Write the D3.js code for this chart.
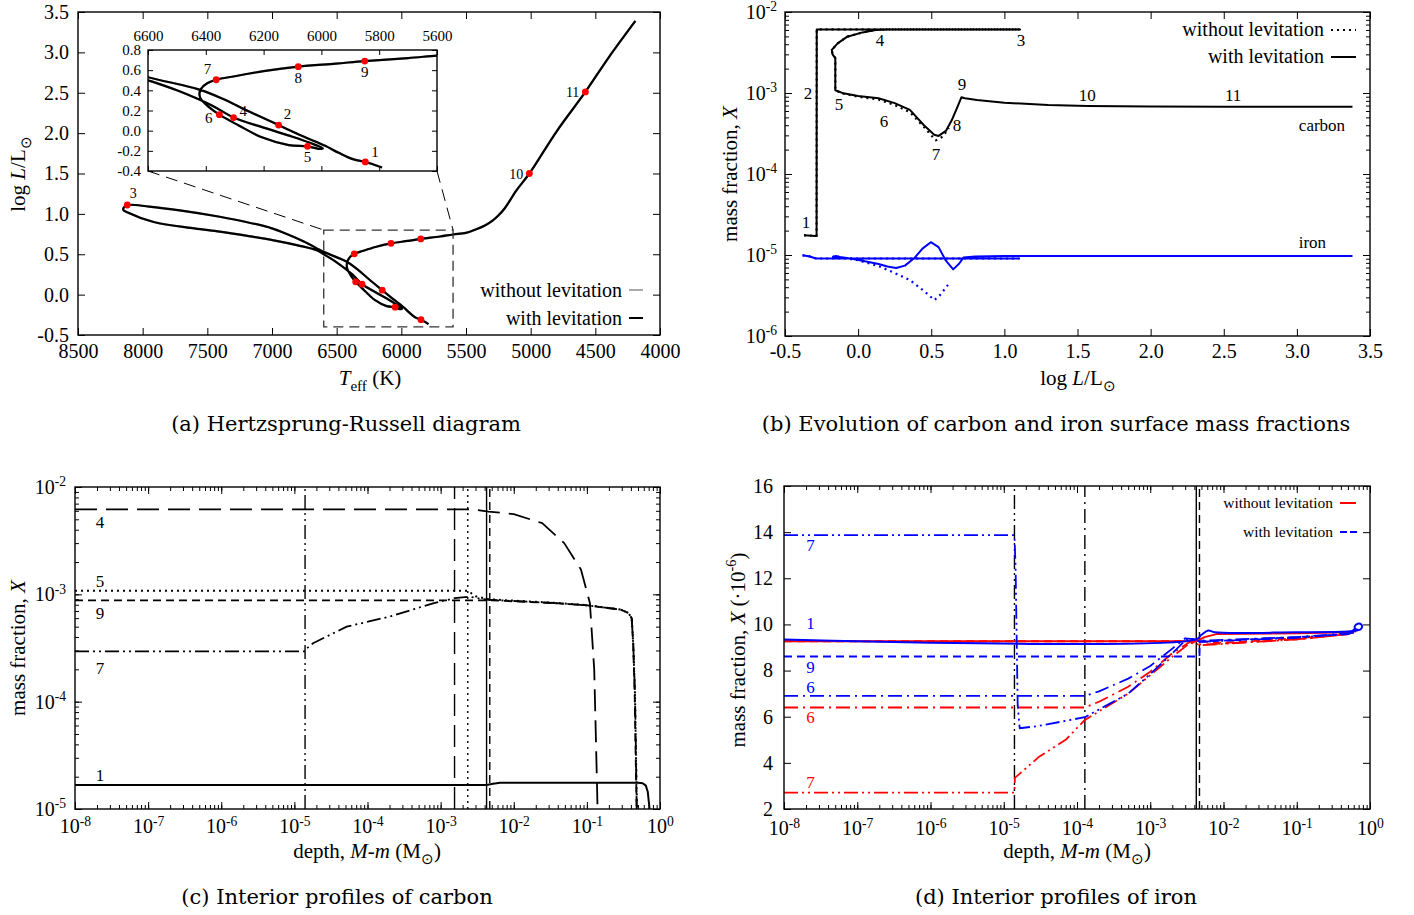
<!DOCTYPE html>
<html>
<head>
<meta charset="utf-8">
<script src="https://cdn.jsdelivr.net/npm/d3@7"></script>
<style>
body { margin: 0; background: #fff; }
</style>
</head>
<body>
<script>
// ---------- (a) HR diagram ----------
var hrTeff = [5790, 5820, 5848, 5894, 5940, 5987, 6060, 6148, 6250, 6344, 6425, 6600, 6750, 6900, 7000, 7200, 7404, 7700, 7950, 8119,
    8145, 8150, 8120, 7915, 7600, 7404, 7200, 6996, 6800, 6655, 6600, 6500, 6379, 6304, 6200, 6100, 6040, 5995, 6010, 6048,
    6113, 6206, 6286, 6353, 6390, 6418, 6422, 6415, 6395, 6364, 6300, 6200, 6080, 5950, 5850, 5700, 5600, 5500, 5420, 5350,
    5300, 5250, 5200, 5110, 5010, 4800, 4577, 4400, 4190];
var hrLogL = [-0.365, -0.335, -0.31, -0.28, -0.22, -0.15, -0.06, 0.055, 0.19, 0.32, 0.41, 0.53, 0.655, 0.76, 0.82, 0.90, 0.964, 1.04, 1.09, 1.11,
    1.08, 1.05, 1.02, 0.90, 0.82, 0.78, 0.73, 0.675, 0.61, 0.55, 0.50, 0.40, 0.25, 0.13, 0.03, -0.06, -0.12, -0.175, -0.18, -0.155,
    -0.143, -0.066, 0.052, 0.159, 0.236, 0.32, 0.37, 0.42, 0.47, 0.505, 0.54, 0.59, 0.635, 0.665, 0.69, 0.72, 0.745, 0.765, 0.81, 0.86,
    0.91, 0.98, 1.07, 1.29, 1.5, 2.02, 2.51, 2.93, 3.39];
// without levitation the track is the same (hidden under the black one)
var hrNoLevTeff = hrTeff.slice();
var hrNoLevLogL = hrLogL.slice();

var ptLabels = ["1", "2", "3", "4", "5", "6", "7", "8", "9", "10", "11"];
var ptTeff = [5848, 6148, 8119, 6304, 6048, 6353, 6364, 6080, 5850, 5010, 4577];
var ptLogL = [-0.31, 0.055, 1.11, 0.13, -0.155, 0.159, 0.505, 0.635, 0.69, 1.5, 2.51];

var aTeffTicks = [8500, 8000, 7500, 7000, 6500, 6000, 5500, 5000, 4500, 4000];
var aLogLTicks = [-0.5, 0, 0.5, 1, 1.5, 2, 2.5, 3, 3.5];
var insetTeffTicks = [6600, 6400, 6200, 6000, 5800, 5600];
var insetLogLTicks = [-0.4, -0.2, 0, 0.2, 0.4, 0.6, 0.8];

// ---------- (b) surface mass fractions ----------
var cLevL = [-0.37, -0.29, -0.284, -0.283, 0.5, 1.107, 0.5, 0.2, 0.12, 0.03, -0.074, -0.14, -0.18, -0.175, -0.156, -0.156,
    -0.1, 0.0, 0.14, 0.25, 0.354, 0.45, 0.52, 0.55, 0.6, 0.64, 0.68, 0.706, 0.73, 0.812, 1.0, 1.3, 1.57, 2.0, 2.5, 3.0, 3.38];
var cLevX = [1.75e-5, 1.72e-5, 1.72e-5, 6.1e-3, 6.1e-3, 6.1e-3, 6.1e-3, 6.1e-3, 6.0e-3, 5.6e-3, 4.96e-3, 4.1e-3, 3.4e-3, 3.0e-3, 2.7e-3, 1.08e-3,
    9.9e-4, 9.2e-4, 8.6e-4, 7.5e-4, 6.2e-4, 4.0e-4, 3.05e-4, 2.95e-4, 3.4e-4, 4.6e-4, 6.8e-4, 8.85e-4, 8.6e-4, 8.2e-4, 7.6e-4, 7.1e-4, 6.9e-4, 6.8e-4, 6.75e-4, 6.75e-4, 6.75e-4];
var cNoLevL = [-0.37, -0.29, -0.284, -0.283, 0.5, 1.107, 0.5, 0.2, 0.12, 0.03, -0.074, -0.14, -0.18, -0.175, -0.156, -0.156,
    -0.1, 0.0, 0.14, 0.25, 0.354, 0.45, 0.53, 0.58, 0.62];
var cNoLevX = [1.75e-5, 1.72e-5, 1.72e-5, 6.1e-3, 6.1e-3, 6.1e-3, 6.1e-3, 6.1e-3, 6.0e-3, 5.6e-3, 4.96e-3, 4.1e-3, 3.4e-3, 3.0e-3, 2.7e-3, 1.08e-3,
    9.8e-4, 9.0e-4, 8.3e-4, 7.1e-4, 5.8e-4, 3.8e-4, 2.6e-4, 2.9e-4, 3.7e-4];
var feLevL = [-0.38, -0.33, -0.3, -0.285, -0.28, 0.5, 1.1, 0.5, 0.2, 0.0, -0.1, -0.15, -0.17, -0.156, -0.1, -0.014, 0.14, 0.2, 0.26,
    0.32, 0.383, 0.44, 0.497, 0.55, 0.6, 0.65, 0.69, 0.72, 0.8, 1.0, 2.0, 3.38];
var feLevX = [9.9e-6, 9.6e-6, 9.2e-6, 9.05e-6, 9.05e-6, 9.05e-6, 9.05e-6, 9.05e-6, 9.05e-6, 9.05e-6, 9.1e-6, 9.7e-6, 9.5e-6, 9.6e-6, 9.3e-6, 8.8e-6, 7.75e-6, 7.2e-6, 6.9e-6,
    7.4e-6, 9.1e-6, 1.2e-5, 1.44e-5, 1.25e-5, 8.5e-6, 6.65e-6, 7.8e-6, 9.3e-6, 9.6e-6, 9.7e-6, 9.7e-6, 9.7e-6];
var feNoLevL = [-0.38, -0.33, -0.3, -0.285, -0.28, 0.5, 1.1, 0.5, 0.2, 0.0, -0.1, -0.15, -0.17, -0.156, -0.1, 0.0, 0.14, 0.25, 0.354, 0.45, 0.522, 0.56, 0.614];
var feNoLevX = [9.9e-6, 9.6e-6, 9.2e-6, 9.05e-6, 9.05e-6, 9.05e-6, 9.05e-6, 9.05e-6, 9.05e-6, 9.05e-6, 9.1e-6, 9.7e-6, 9.5e-6, 9.6e-6, 9.2e-6, 8.6e-6, 7.3e-6, 6.0e-6, 4.9e-6, 3.6e-6, 2.78e-6, 3.2e-6, 4.27e-6];

var bLabelText = ["1", "2", "3", "4", "5", "6", "7", "8", "9", "10", "11"];
var bLabelL = [-0.356, -0.343, 1.114, 0.15, -0.131, 0.177, 0.533, 0.676, 0.711, 1.566, 2.564];
var bLabelX = [2.55e-5, 1.0e-3, 4.5e-3, 4.4e-3, 7.3e-4, 4.5e-4, 1.72e-4, 4.0e-4, 1.26e-3, 9.2e-4, 9.2e-4];
var bLTicks = [-0.5, 0, 0.5, 1, 1.5, 2, 2.5, 3, 3.5];
var bXTicks = [1e-6, 1e-5, 1e-4, 1e-3, 1e-2];

// ---------- (c) interior carbon profiles ----------
var c1Depth = [1e-8, 4.25e-3, 5.2e-3, 6.5e-3, 0.1, 0.5, 0.58, 0.64, 0.68, 0.7, 0.72];
var c1X = [1.67e-5, 1.67e-5, 1.72e-5, 1.76e-5, 1.76e-5, 1.76e-5, 1.74e-5, 1.65e-5, 1.45e-5, 1.2e-5, 1e-5];
var c4Depth = [1e-8, 2.6e-3, 4.5e-3, 1e-2, 2.45e-2, 4.9e-2, 8.3e-2, 0.11, 0.126, 0.135, 0.14];
var c4X = [6.2e-3, 6.2e-3, 5.9e-3, 5.6e-3, 4.6e-3, 3.0e-3, 1.7e-3, 8.3e-4, 2e-4, 2.9e-5, 1e-5];
var c5Depth = [1e-8, 2.35e-3, 3.0e-3, 4.5e-3, 3.5e-2, 0.1, 0.29, 0.37, 0.41, 0.43, 0.455, 0.47, 0.485];
var c5X = [1.08e-3, 1.08e-3, 9.6e-4, 9.0e-4, 8.35e-4, 7.95e-4, 7.2e-4, 6.7e-4, 6.0e-4, 3.5e-4, 1.2e-4, 3e-5, 1e-5];
var c9Depth = [1e-8, 4.7e-3, 3.5e-2, 0.1, 0.29, 0.37, 0.41, 0.43, 0.45, 0.465, 0.48];
var c9X = [8.8e-4, 8.8e-4, 8.3e-4, 7.9e-4, 7.2e-4, 6.7e-4, 6.0e-4, 3.5e-4, 1.2e-4, 3e-5, 1e-5];
var c7Depth = [1e-8, 1.4e-5, 1.45e-5, 1.8e-5, 5.2e-5, 2e-4, 8.1e-4, 1.55e-3, 2.5e-3, 3.5e-3, 4.6e-3, 3.5e-2, 0.1, 0.29, 0.37, 0.41, 0.43, 0.455, 0.47, 0.48];
var c7X = [2.94e-4, 2.94e-4, 3.1e-4, 3.5e-4, 5.0e-4, 6.2e-4, 8.3e-4, 9.2e-4, 9.5e-4, 9.1e-4, 8.9e-4, 8.3e-4, 7.9e-4, 7.2e-4, 6.7e-4, 6.0e-4, 3.5e-4, 1.2e-4, 3e-5, 1e-5];
var cBoundDepth = [1.4e-5, 1.55e-3, 2.35e-3, 4.25e-3, 4.7e-3];
var cBoundModel = ["7", "4", "5", "1", "9"];
var cLabelText = ["4", "5", "9", "7", "1"];
var cLabelX = [4.7e-3, 1.33e-3, 6.7e-4, 2.03e-4, 2.07e-5];
var depthTicks = [1e-8, 1e-7, 1e-6, 1e-5, 1e-4, 1e-3, 1e-2, 1e-1, 1];
var cXTicks = [1e-5, 1e-4, 1e-3, 1e-2];

// ---------- (d) interior iron profiles (units of 1e-6) ----------
var dB1Depth = [1e-8, 4.25e-3, 5e-3, 6.2e-3, 7.6e-3, 0.1, 0.5, 0.6, 0.66, 0.74, 0.78, 0.76, 0.68, 0.62, 0.63, 0.7];
var dB1Val = [9.35, 9.35, 9.55, 9.74, 9.66, 9.66, 9.69, 9.72, 9.74, 9.78, 9.9, 10.0, 10.03, 9.92, 9.8, 9.76];
var dR1Depth = [1e-8, 4.25e-3, 5.5e-3, 8e-3, 0.1, 0.5, 0.65];
var dR1Val = [9.27, 9.27, 9.45, 9.58, 9.62, 9.66, 9.7];
var dB9Depth = [1e-8, 4.7e-3, 4.72e-3, 1e-2, 0.1, 0.5, 0.62];
var dB9Val = [8.61, 8.61, 9.26, 9.3, 9.45, 9.58, 9.8];
var dR9Depth = [1e-8, 4.7e-3, 1e-2, 0.1, 0.5, 0.62];
var dR9Val = [9.27, 9.27, 9.2, 9.4, 9.58, 9.7];
var dB7Depth = [1e-8, 1.4e-5, 1.45e-5, 1.55e-5, 1.65e-5, 3e-5, 1.28e-4, 5e-4, 1e-3, 2e-3, 3e-3, 3.6e-3, 4.25e-3, 5e-3, 0.1, 0.5, 0.6];
var dB7Val = [13.87, 13.87, 12.5, 6.5, 5.5, 5.6, 5.98, 7.0, 7.85, 8.75, 9.3, 9.4, 9.3, 9.25, 9.42, 9.6, 9.65];
var dR7Depth = [1e-8, 1.4e-5, 1.42e-5, 3e-5, 7e-5, 1.28e-4, 5e-4, 1e-3, 2e-3, 3.5e-3, 4.25e-3, 5e-3, 0.1, 0.5, 0.6];
var dR7Val = [2.71, 2.71, 3.35, 4.25, 5.0, 5.86, 7.0, 7.8, 8.6, 9.2, 9.15, 9.1, 9.35, 9.58, 9.65];
var dB6Depth = [1e-8, 1.28e-4, 2e-4, 5e-4, 1e-3, 2e-3, 3e-3, 4.25e-3, 5e-3, 0.1, 0.5, 0.6];
var dB6Val = [6.9, 6.9, 7.1, 7.65, 8.2, 8.95, 9.4, 9.35, 9.3, 9.45, 9.62, 9.68];
var dR6Depth = [1e-8, 1.28e-4, 2e-4, 5e-4, 1e-3, 2e-3, 3.5e-3, 4.25e-3, 5e-3, 0.1, 0.5, 0.6];
var dR6Val = [6.4, 6.4, 6.65, 7.3, 7.95, 8.75, 9.25, 9.2, 9.12, 9.35, 9.58, 9.65];
var dBoundDepth = [1.4e-5, 1.28e-4, 4.25e-3, 4.7e-3];
var dBoundModel = ["7", "6", "1", "9"];
var dLabelText = ["7", "1", "9", "6", "6", "7"];
var dLabelVal = [13.41, 10.03, 8.12, 7.25, 5.95, 3.13];
var dLabelLev = [true, true, true, true, false, false];
var dValTicks = [2, 4, 6, 8, 10, 12, 14, 16];

// ---------- styles ----------
var BLUE = "#0000ff", RED = "#ff0000";
var dash = { "1": null, "4": "22,9", "5": "2,4", "9": "8,5", "7": "14,4,2,4,2,4", "6": "14,5,2,5" };

var svg = d3.select("body").append("svg")
    .attr("width", 1414).attr("height", 915)
    .style("display", "block")
    .attr("font-family", "'Liberation Serif', 'Times New Roman', serif");
var defs = svg.append("defs");

function clip(id, x, y) {
    defs.append("clipPath").attr("id", id).append("rect")
        .attr("x", x.range()[0]).attr("y", y.range()[1])
        .attr("width", x.range()[1] - x.range()[0]).attr("height", y.range()[0] - y.range()[1]);
    return "url(#" + id + ")";
}

function makeAxis(side, scale) {
    if (side === "bottom") return d3.axisBottom(scale);
    if (side === "top") return d3.axisTop(scale);
    if (side === "left") return d3.axisLeft(scale);
    return d3.axisRight(scale);
}

// gnuplot style frame: inward ticks on all four sides
function addAxes(g, x, y, c) {
    var xr = x.range(), yr = y.range();
    var pos = {
        bottom: "translate(0," + yr[0] + ")", top: "translate(0," + yr[1] + ")",
        left: "translate(" + xr[0] + ",0)", right: "translate(" + xr[1] + ",0)"
    };
    ["bottom", "top", "left", "right"].forEach(function (side) {
        var isX = side === "bottom" || side === "top";
        var scale = isX ? x : y;
        var minor = isX ? c.xMinor : c.yMinor;
        if (minor) {
            var gm = g.append("g").attr("transform", pos[side])
                .call(makeAxis(side, scale).tickValues(minor).tickSize(-c.minorLen).tickFormat(""));
            gm.select(".domain").remove();
            gm.selectAll("line").attr("stroke-width", 1);
        }
        var showLabels = isX ? (c.xLabelSide || "bottom") === side : side === "left";
        var ga = g.append("g").attr("transform", pos[side])
            .call(makeAxis(side, scale).tickValues(isX ? c.xTicks : c.yTicks)
                .tickSize(-c.len).tickPadding(isX ? c.xPad || c.pad : c.pad)
                .tickFormat(showLabels ? (isX ? c.xFmt : c.yFmt) : ""));
        ga.select(".domain").remove();
        ga.attr("font-family", null).attr("font-size", c.fs);
        ga.selectAll("line").attr("stroke-width", 1);
        ga.selectAll("text").attr("fill", "#000");
        if (showLabels && (isX ? c.xLog : c.yLog)) {
            ga.selectAll(".tick text").each(function (d) {
                var e = Math.round(Math.log10(d));
                var t = d3.select(this).text("10");
                t.append("tspan").attr("dy", "-0.55em").attr("font-size", "0.68em").text(e);
            });
        }
    });
    g.append("rect")
        .attr("x", xr[0]).attr("y", yr[1])
        .attr("width", xr[1] - xr[0]).attr("height", yr[0] - yr[1])
        .attr("fill", "none").attr("stroke", "#000").attr("stroke-width", 1.4);
}

// text with italic / sub / sup pieces
function rich(t, parts, fs) {
    var shift = 0;
    parts.forEach(function (p) {
        var st = p[1] || "";
        var target = 0, size = fs;
        if (st.indexOf("sub") >= 0) { target = 0.3 * fs; size = 0.72 * fs; }
        if (st.indexOf("sup") >= 0) { target = -0.42 * fs; size = 0.68 * fs; }
        var s = t.append("tspan").text(p[0]).attr("font-size", size);
        if (target - shift !== 0) s.attr("dy", target - shift);
        if (st[0] === "i") s.attr("font-style", "italic");
        shift = target;
    });
    return t;
}

function drawLine(g, xs, ys, x, y, o) {
    return g.append("path")
        .datum(d3.zip(xs, ys))
        .attr("d", d3.line().x(function (d) { return x(d[0]); }).y(function (d) { return y(d[1]); })
            .curve(o.curve || d3.curveLinear))
        .attr("fill", "none")
        .attr("stroke", o.color || "#000")
        .attr("stroke-width", o.width || 2)
        .attr("stroke-dasharray", o.dash || null)
        .attr("stroke-linejoin", "round");
}

var smooth = d3.curveCatmullRom.alpha(0.5);

// ================= (a) =================
var xA = d3.scaleLinear().domain([8500, 4000]).range([78, 660]);
var yA = d3.scaleLinear().domain([-0.5, 3.5]).range([335, 12]);
var gA = svg.append("g");
var plotA = gA.append("g").attr("clip-path", clip("clipA", xA, yA));
drawLine(plotA, hrNoLevTeff, hrNoLevLogL, xA, yA, { color: "#aaa", width: 2.2, curve: smooth });
drawLine(plotA, hrTeff, hrLogL, xA, yA, { color: "#000", width: 2.2, curve: smooth });
plotA.selectAll("circle").data(d3.zip(ptTeff, ptLogL)).enter().append("circle")
    .attr("cx", function (d) { return xA(d[0]); }).attr("cy", function (d) { return yA(d[1]); })
    .attr("r", 3.4).attr("fill", RED);
var mainLabelOff = { "3": [6, -7, "middle"], "10": [-6, 5, "end"], "11": [-6, 5, "end"] };
ptLabels.forEach(function (lab, i) {
    if (!mainLabelOff[lab]) return;
    var o = mainLabelOff[lab];
    gA.append("text").attr("x", xA(ptTeff[i]) + o[0]).attr("y", yA(ptLogL[i]) + o[1])
        .attr("text-anchor", o[2]).attr("font-size", 14).text(lab);
});
// zoom box and connectors
gA.append("rect")
    .attr("x", xA(6600)).attr("y", yA(0.8))
    .attr("width", xA(5600) - xA(6600)).attr("height", yA(-0.4) - yA(0.8))
    .attr("fill", "none").attr("stroke", "#333").attr("stroke-width", 1.3).attr("stroke-dasharray", "10,6");
addAxes(gA, xA, yA, {
    xTicks: aTeffTicks, yTicks: aLogLTicks, len: 7, pad: 9, xPad: 9, fs: 20,
    xFmt: d3.format("d"), yFmt: function (d) { return d.toFixed(1); }
});

// inset
var xAi = d3.scaleLinear().domain([6600, 5600]).range([148, 437]);
var yAi = d3.scaleLinear().domain([-0.4, 0.8]).range([171, 50]);
gA.append("line").attr("x1", xAi(6600)).attr("y1", yAi(-0.4)).attr("x2", xA(6600)).attr("y2", yA(0.8))
    .attr("stroke", "#000").attr("stroke-width", 1).attr("stroke-dasharray", "12,7");
gA.append("line").attr("x1", xAi(5600)).attr("y1", yAi(-0.4)).attr("x2", xA(5600)).attr("y2", yA(0.8))
    .attr("stroke", "#000").attr("stroke-width", 1).attr("stroke-dasharray", "12,7");
gA.append("rect").attr("x", 148).attr("y", 50).attr("width", 289).attr("height", 121).attr("fill", "#fff");
var plotAi = gA.append("g").attr("clip-path", clip("clipAi", xAi, yAi));
drawLine(plotAi, hrNoLevTeff, hrNoLevLogL, xAi, yAi, { color: "#aaa", width: 2.2, curve: smooth });
drawLine(plotAi, hrTeff, hrLogL, xAi, yAi, { color: "#000", width: 2.2, curve: smooth });
plotAi.selectAll("circle").data(d3.zip(ptTeff, ptLogL)).enter().append("circle")
    .attr("cx", function (d) { return xAi(d[0]); }).attr("cy", function (d) { return yAi(d[1]); })
    .attr("r", 3.4).attr("fill", RED);
var insetLabelOff = {
    "1": [6, -5, "start"], "2": [5, -6, "start"], "4": [6, -2, "start"], "5": [0, 16, "middle"],
    "6": [-7, 8, "end"], "7": [-5, -6, "end"], "8": [0, 16, "middle"], "9": [0, 16, "middle"]
};
ptLabels.forEach(function (lab, i) {
    if (!insetLabelOff[lab]) return;
    var o = insetLabelOff[lab];
    gA.append("text").attr("x", xAi(ptTeff[i]) + o[0]).attr("y", yAi(ptLogL[i]) + o[1])
        .attr("text-anchor", o[2]).attr("font-size", 15).text(lab);
});
addAxes(gA, xAi, yAi, {
    xTicks: insetTeffTicks, yTicks: insetLogLTicks, len: 5, pad: 7, xPad: 9, fs: 15, xLabelSide: "top",
    xFmt: d3.format("d"), yFmt: function (d) { return d.toFixed(1); }
});

// legend (a)
gA.append("text").attr("x", 622).attr("y", 297).attr("text-anchor", "end").attr("font-size", 20).text("without levitation");
gA.append("line").attr("x1", 629).attr("x2", 643).attr("y1", 290).attr("y2", 290).attr("stroke", "#aaa").attr("stroke-width", 2);
gA.append("text").attr("x", 622).attr("y", 325).attr("text-anchor", "end").attr("font-size", 20).text("with levitation");
gA.append("line").attr("x1", 629).attr("x2", 643).attr("y1", 318).attr("y2", 318).attr("stroke", "#000").attr("stroke-width", 2);

rich(gA.append("text").attr("text-anchor", "middle").attr("transform", "translate(25,174) rotate(-90)"),
    [["log "], ["L", "i"], ["/L"], ["\u2299", "sub"]], 21);
rich(gA.append("text").attr("text-anchor", "middle").attr("x", 370).attr("y", 385),
    [["T", "i"], ["eff", "sub"], [" (K)"]], 21);

// ================= (b) =================
var xB = d3.scaleLinear().domain([-0.5, 3.5]).range([785, 1370]);
var yB = d3.scaleLog().domain([1e-6, 1e-2]).range([336, 12]);
var gB = svg.append("g");
var plotB = gB.append("g").attr("clip-path", clip("clipB", xB, yB));
drawLine(plotB, feLevL, feLevX, xB, yB, { color: BLUE, width: 2 });
drawLine(plotB, feNoLevL, feNoLevX, xB, yB, { color: BLUE, width: 2.2, dash: "2,4" });
drawLine(plotB, cLevL, cLevX, xB, yB, { color: "#000", width: 2 });
drawLine(plotB, cNoLevL, cNoLevX, xB, yB, { color: "#000", width: 2.2, dash: "2,4" });
bLabelText.forEach(function (lab, i) {
    gB.append("text").attr("x", xB(bLabelL[i])).attr("y", yB(bLabelX[i]))
        .attr("text-anchor", "middle").attr("dominant-baseline", "central").attr("font-size", 17).text(lab);
});
gB.append("text").attr("x", xB(3.33)).attr("y", yB(4.0e-4)).attr("text-anchor", "end")
    .attr("dominant-baseline", "central").attr("font-size", 17).text("carbon");
gB.append("text").attr("x", xB(3.2)).attr("y", yB(1.41e-5)).attr("text-anchor", "end")
    .attr("dominant-baseline", "central").attr("font-size", 17).text("iron");
addAxes(gB, xB, yB, {
    xTicks: bLTicks, yTicks: bXTicks, yMinor: yB.ticks(20), yLog: true, len: 7, minorLen: 4, pad: 8, fs: 20,
    xFmt: function (d) { return d.toFixed(1); }, yFmt: d3.format("")
});
gB.append("text").attr("x", 1324).attr("y", 36).attr("text-anchor", "end").attr("font-size", 20).text("without levitation");
gB.append("line").attr("x1", 1331).attr("x2", 1356).attr("y1", 30).attr("y2", 30)
    .attr("stroke", "#000").attr("stroke-width", 2.2).attr("stroke-dasharray", "2,4");
gB.append("text").attr("x", 1324).attr("y", 63).attr("text-anchor", "end").attr("font-size", 20).text("with levitation");
gB.append("line").attr("x1", 1331).attr("x2", 1356).attr("y1", 57).attr("y2", 57).attr("stroke", "#000").attr("stroke-width", 2);
rich(gB.append("text").attr("text-anchor", "middle").attr("transform", "translate(737,174) rotate(-90)"),
    [["mass fraction, "], ["X", "i"]], 21);
rich(gB.append("text").attr("text-anchor", "middle").attr("x", 1078).attr("y", 385),
    [["log "], ["L", "i"], ["/L"], ["\u2299", "sub"]], 21);

// ================= (c) =================
var xC = d3.scaleLog().domain([1e-8, 1]).range([75, 660]);
var yC = d3.scaleLog().domain([1e-5, 1e-2]).range([809, 487]);
var gC = svg.append("g");
var plotC = gC.append("g").attr("clip-path", clip("clipC", xC, yC));
cBoundDepth.forEach(function (dp, i) {
    plotC.append("line").attr("x1", xC(dp)).attr("x2", xC(dp)).attr("y1", yC.range()[0]).attr("y2", yC.range()[1])
        .attr("stroke", "#000").attr("stroke-width", 1.4).attr("stroke-dasharray", dash[cBoundModel[i]]);
});
drawLine(plotC, c1Depth, c1X, xC, yC, { width: 2, dash: dash["1"] });
drawLine(plotC, c4Depth, c4X, xC, yC, { width: 1.8, dash: dash["4"] });
drawLine(plotC, c5Depth, c5X, xC, yC, { width: 2, dash: dash["5"] });
drawLine(plotC, c9Depth, c9X, xC, yC, { width: 1.8, dash: dash["9"] });
drawLine(plotC, c7Depth, c7X, xC, yC, { width: 1.8, dash: dash["7"] });
cLabelText.forEach(function (lab, i) {
    gC.append("text").attr("x", xC(2.2e-8)).attr("y", yC(cLabelX[i]))
        .attr("text-anchor", "middle").attr("dominant-baseline", "central").attr("font-size", 17).text(lab);
});
addAxes(gC, xC, yC, {
    xTicks: depthTicks, yTicks: cXTicks, xMinor: xC.ticks(20), yMinor: yC.ticks(20), xLog: true, yLog: true,
    len: 7, minorLen: 4, pad: 9, xPad: 10, fs: 20, xFmt: d3.format(""), yFmt: d3.format("")
});
rich(gC.append("text").attr("text-anchor", "middle").attr("transform", "translate(25,648) rotate(-90)"),
    [["mass fraction, "], ["X", "i"]], 21);
rich(gC.append("text").attr("text-anchor", "middle").attr("x", 367).attr("y", 858),
    [["depth, "], ["M", "i"], ["-"], ["m", "i"], [" (M"], ["\u2299", "sub"], [")"]], 21);

// ================= (d) =================
var xD = d3.scaleLog().domain([1e-8, 1]).range([784, 1370]);
var yD = d3.scaleLinear().domain([2, 16]).range([809, 486]);
var gD = svg.append("g");
var plotD = gD.append("g").attr("clip-path", clip("clipD", xD, yD));
dBoundDepth.forEach(function (dp, i) {
    plotD.append("line").attr("x1", xD(dp)).attr("x2", xD(dp)).attr("y1", yD.range()[0]).attr("y2", yD.range()[1])
        .attr("stroke", "#000").attr("stroke-width", 1.4).attr("stroke-dasharray", dash[dBoundModel[i]]);
});
drawLine(plotD, dR9Depth, dR9Val, xD, yD, { color: RED, width: 1.8, dash: dash["9"] });
drawLine(plotD, dR1Depth, dR1Val, xD, yD, { color: RED, width: 2 });
drawLine(plotD, dR6Depth, dR6Val, xD, yD, { color: RED, width: 1.8, dash: dash["6"] });
drawLine(plotD, dR7Depth, dR7Val, xD, yD, { color: RED, width: 1.8, dash: dash["7"] });
drawLine(plotD, dB9Depth, dB9Val, xD, yD, { color: BLUE, width: 1.8, dash: dash["9"] });
drawLine(plotD, dB1Depth, dB1Val, xD, yD, { color: BLUE, width: 2, curve: smooth });
drawLine(plotD, dB6Depth, dB6Val, xD, yD, { color: BLUE, width: 1.8, dash: dash["6"] });
drawLine(plotD, dB7Depth, dB7Val, xD, yD, { color: BLUE, width: 1.8, dash: dash["7"] });
dLabelText.forEach(function (lab, i) {
    gD.append("text").attr("x", xD(2.3e-8)).attr("y", yD(dLabelVal[i]))
        .attr("text-anchor", "middle").attr("dominant-baseline", "central").attr("font-size", 17)
        .attr("fill", dLabelLev[i] ? BLUE : RED).text(lab);
});
addAxes(gD, xD, yD, {
    xTicks: depthTicks, yTicks: dValTicks, xMinor: xD.ticks(20), xLog: true,
    len: 7, minorLen: 4, pad: 11, xPad: 12, fs: 20, xFmt: d3.format(""), yFmt: d3.format("d")
});
gD.append("text").attr("x", 1333).attr("y", 508).attr("text-anchor", "end").attr("font-size", 15.5).text("without levitation");
gD.append("line").attr("x1", 1340).attr("x2", 1356).attr("y1", 503).attr("y2", 503).attr("stroke", RED).attr("stroke-width", 2);
gD.append("text").attr("x", 1333).attr("y", 537).attr("text-anchor", "end").attr("font-size", 15.5).text("with levitation");
gD.append("line").attr("x1", 1340).attr("x2", 1357).attr("y1", 532).attr("y2", 532).attr("stroke", BLUE).attr("stroke-width", 2)
    .attr("stroke-dasharray", "7,3");
rich(gD.append("text").attr("text-anchor", "middle").attr("transform", "translate(745,650) rotate(-90)"),
    [["mass fraction, "], ["X", "i"], [" (\u00b710"], ["-6", "sup"], [")"]], 21);
rich(gD.append("text").attr("text-anchor", "middle").attr("x", 1077).attr("y", 858),
    [["depth, "], ["M", "i"], ["-"], ["m", "i"], [" (M"], ["\u2299", "sub"], [")"]], 21);

// ================= captions =================
var captions = ["(a) Hertzsprung-Russell diagram", "(b) Evolution of carbon and iron surface mass fractions",
    "(c) Interior profiles of carbon", "(d) Interior profiles of iron"];
var capX = [346, 1056, 337, 1056];
var capY = [431, 431, 904, 904];
captions.forEach(function (c, i) {
    svg.append("text").attr("x", capX[i]).attr("y", capY[i]).attr("text-anchor", "middle")
        .attr("font-family", "'DejaVu Serif', serif").attr("font-size", 21).attr("font-weight", 300).text(c);
});
</script>
</body>
</html>
